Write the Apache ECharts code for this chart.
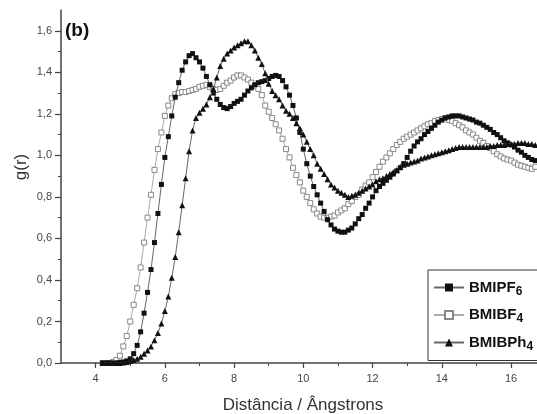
<!DOCTYPE html>
<html>
<head>
<meta charset="utf-8">
<script src="https://cdn.jsdelivr.net/npm/echarts@6/dist/echarts.min.js"></script>
<style>
  html, body { margin: 0; padding: 0; background: #fff; }
  #main { width: 537px; height: 414px; }
</style>
</head>
<body>
<div id="main"></div>
<script>
// r (Angstrom) sampling, 4.2 .. 16.8
var r = [4.2,4.3,4.4,4.5,4.6,4.7,4.8,4.9,5.0,5.1,
  5.2,5.3,5.4,5.5,5.6,5.7,5.8,5.9,6.0,6.1,
  6.2,6.3,6.4,6.5,6.6,6.7,6.8,6.9,7.0,7.1,
  7.2,7.3,7.4,7.5,7.6,7.7,7.8,7.9,8.0,8.1,
  8.2,8.3,8.4,8.5,8.6,8.7,8.8,8.9,9.0,9.1,
  9.2,9.3,9.4,9.5,9.6,9.7,9.8,9.9,10.0,10.1,
  10.2,10.3,10.4,10.5,10.6,10.7,10.8,10.9,11.0,11.1,
  11.2,11.3,11.4,11.5,11.6,11.7,11.8,11.9,12.0,12.1,
  12.2,12.3,12.4,12.5,12.6,12.7,12.8,12.9,13.0,13.1,
  13.2,13.3,13.4,13.5,13.6,13.7,13.8,13.9,14.0,14.1,
  14.2,14.3,14.4,14.5,14.6,14.7,14.8,14.9,15.0,15.1,
  15.2,15.3,15.4,15.5,15.6,15.7,15.8,15.9,16.0,16.1,
  16.2,16.3,16.4,16.5,16.6,16.7,16.8];

var gPF6 = [0,0,0,0,0,0.003,0.005,0.01,0.02,0.045,
  0.085,0.15,0.24,0.34,0.45,0.58,0.72,0.86,0.99,1.09,
  1.19,1.28,1.35,1.41,1.45,1.48,1.49,1.47,1.45,1.42,
  1.38,1.34,1.30,1.27,1.245,1.23,1.225,1.235,1.25,1.26,
  1.27,1.29,1.31,1.325,1.34,1.35,1.355,1.36,1.37,1.38,
  1.385,1.38,1.36,1.33,1.29,1.24,1.18,1.11,1.03,0.96,
  0.9,0.85,0.81,0.77,0.73,0.69,0.665,0.645,0.635,0.63,
  0.63,0.64,0.65,0.67,0.695,0.715,0.745,0.77,0.8,0.83,
  0.85,0.865,0.88,0.895,0.91,0.925,0.94,0.96,0.99,1.02,
  1.045,1.065,1.08,1.1,1.115,1.13,1.145,1.16,1.17,1.18,
  1.185,1.19,1.19,1.19,1.185,1.18,1.175,1.17,1.16,1.155,
  1.145,1.135,1.125,1.11,1.1,1.085,1.07,1.06,1.05,1.04,
  1.025,1.015,1.0,0.99,0.98,0.975,0.965];

var gBF4 = [0,0,0,0.005,0.015,0.035,0.08,0.13,0.2,0.28,
  0.36,0.46,0.58,0.7,0.81,0.93,1.03,1.11,1.19,1.24,
  1.275,1.295,1.3,1.305,1.305,1.31,1.315,1.32,1.33,1.335,
  1.34,1.33,1.32,1.315,1.32,1.335,1.35,1.36,1.375,1.385,
  1.385,1.375,1.365,1.35,1.335,1.32,1.29,1.24,1.21,1.18,
  1.15,1.12,1.08,1.03,0.99,0.94,0.905,0.87,0.83,0.8,
  0.77,0.74,0.72,0.705,0.7,0.7,0.705,0.71,0.725,0.735,
  0.745,0.765,0.78,0.8,0.81,0.835,0.855,0.87,0.895,0.92,
  0.945,0.97,0.99,1.01,1.03,1.05,1.065,1.08,1.09,1.1,
  1.11,1.12,1.13,1.14,1.15,1.155,1.165,1.17,1.175,1.18,
  1.17,1.165,1.155,1.145,1.135,1.12,1.11,1.1,1.085,1.07,
  1.06,1.045,1.035,1.02,1.005,0.995,0.985,0.98,0.975,0.965,
  0.955,0.95,0.945,0.94,0.935,0.945,0.95];

var gBPh4 = [0,0,0,0,0,0,0.003,0.005,0.01,0.015,
  0.02,0.03,0.045,0.06,0.08,0.11,0.145,0.19,0.25,0.32,
  0.41,0.51,0.63,0.76,0.89,1.02,1.12,1.18,1.205,1.225,
  1.245,1.28,1.32,1.375,1.43,1.465,1.49,1.505,1.52,1.53,
  1.54,1.55,1.55,1.53,1.505,1.47,1.44,1.395,1.345,1.31,
  1.29,1.27,1.24,1.215,1.2,1.18,1.155,1.13,1.1,1.065,
  1.03,1.0,0.96,0.935,0.91,0.885,0.86,0.845,0.83,0.82,
  0.81,0.8,0.805,0.81,0.82,0.83,0.84,0.85,0.86,0.875,
  0.885,0.89,0.9,0.91,0.92,0.93,0.945,0.955,0.96,0.965,
  0.97,0.975,0.985,0.99,0.995,1.0,1.005,1.01,1.015,1.02,
  1.025,1.03,1.035,1.04,1.04,1.04,1.04,1.04,1.04,1.04,
  1.04,1.04,1.045,1.045,1.05,1.05,1.05,1.055,1.055,1.055,
  1.06,1.06,1.06,1.055,1.055,1.05,1.05];

var names = ['BMIPF6', 'BMIBF4', 'BMIBPh4'];
var xMajor = [4, 6, 8, 10, 12, 14, 16];
var xMinor = [5, 7, 9, 11, 13, 15];
var yMajor = [0, 0.2, 0.4, 0.6, 0.8, 1.0, 1.2, 1.4, 1.6];
var yMinor = [0.1, 0.3, 0.5, 0.7, 0.9, 1.1, 1.3, 1.5];

function pairs(g) {
  return r.map(function (x, i) { return [x, g[i]]; });
}

var chart = echarts.init(document.getElementById('main'));

var axisCol = '#444';
var X_MIN = 3, X_MAX = 16.75, Y_MIN = 0, Y_MAX = 1.7;

var option = {
  backgroundColor: '#fff',
  animation: false,
  grid: { left: 61, right: 0, top: 10, bottom: 51, outerBoundsMode: 'none', containLabel: false },
  xAxis: [
    {
      type: 'value', min: X_MIN, max: X_MAX,
      name: 'Distância / Ângstrons',
      nameLocation: 'middle',
      nameGap: 34,
      nameTextStyle: { fontFamily: 'Liberation Sans', fontSize: 17, color: '#333', padding: [0, 0, 0, 8] },
      axisLine: { lineStyle: { color: axisCol, width: 1.5 } },
      axisTick: { customValues: xMajor, length: 5, lineStyle: { color: axisCol, width: 1.2 } },
      axisLabel: {
        customValues: xMajor, margin: 10,
        fontFamily: 'Liberation Sans', fontSize: 11, color: '#444'
      },
      splitLine: { show: false }
    },
    {
      type: 'value', min: X_MIN, max: X_MAX, position: 'bottom',
      axisLine: { show: false },
      axisTick: { customValues: xMinor, length: 3, lineStyle: { color: axisCol, width: 1 } },
      axisLabel: { show: false },
      splitLine: { show: false }
    }
  ],
  yAxis: [
    {
      type: 'value', min: Y_MIN, max: Y_MAX,
      axisLine: { show: true, lineStyle: { color: axisCol, width: 1.5 } },
      axisTick: { show: true, customValues: yMajor, length: 6, lineStyle: { color: axisCol, width: 1.2 } },
      axisLabel: {
        customValues: yMajor, margin: 9,
        fontFamily: 'Liberation Sans', fontSize: 11, color: '#444',
        formatter: function (v) { return v.toFixed(1).replace('.', ','); }
      },
      splitLine: { show: false }
    },
    {
      type: 'value', min: Y_MIN, max: Y_MAX, position: 'left',
      axisLine: { show: false },
      axisTick: { show: true, customValues: yMinor, length: 3, lineStyle: { color: axisCol, width: 1 } },
      axisLabel: { show: false },
      splitLine: { show: false }
    }
  ],
  legend: {
    orient: 'vertical',
    left: 428, top: 270,
    itemWidth: 30, itemHeight: 10, itemGap: 10,
    padding: [10, 30, 8, 5],
    backgroundColor: '#fff',
    borderColor: '#333', borderWidth: 1,
    data: names,
    formatter: function (n) {
      var m = n.match(/^(.*?)(\d+)$/);
      return '{b|' + m[1] + '}{s|' + m[2] + '}';
    },
    textStyle: {
      rich: {
        b: { fontFamily: 'Liberation Sans', fontWeight: 'bold', fontSize: 15, color: '#111' },
        s: { fontFamily: 'Liberation Sans', fontWeight: 'bold', fontSize: 12, color: '#111', padding: [8, 0, 0, 0] }
      }
    }
  },
  graphic: [
    {
      type: 'text', left: 65, top: 21,
      style: { text: '(b)', fontFamily: 'Liberation Sans', fontWeight: 'bold', fontSize: 19, fill: '#111' }
    },
    {
      type: 'text', x: 21, y: 167, rotation: Math.PI / 2,
      style: { text: 'g(r)', fontFamily: 'Liberation Sans', fontSize: 17, fill: '#333', align: 'center', verticalAlign: 'middle' }
    }
  ],
  series: [
    {
      name: names[0], type: 'line', data: pairs(gPF6),
      symbol: 'rect', symbolSize: 5,
      lineStyle: { color: '#666', width: 1 },
      itemStyle: { color: '#111', borderColor: '#111', borderWidth: 0 },
      z: 3
    },
    {
      name: names[1], type: 'line', data: pairs(gBF4),
      symbol: 'rect', symbolSize: 5,
      lineStyle: { color: '#aaa', width: 1 },
      itemStyle: { color: '#fff', borderColor: '#888', borderWidth: 1 },
      z: 2
    },
    {
      name: names[2], type: 'line', data: pairs(gBPh4),
      symbol: 'triangle', symbolSize: 6,
      lineStyle: { color: '#666', width: 1 },
      itemStyle: { color: '#111', borderColor: '#111', borderWidth: 0 },
      z: 4
    }
  ]
};

chart.setOption(option);
</script>
</body>
</html>
